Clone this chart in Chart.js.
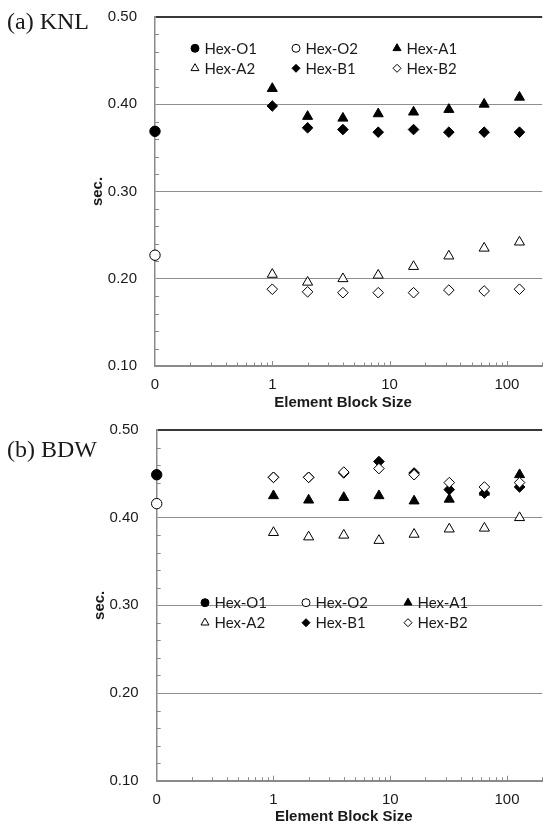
<!DOCTYPE html>
<html>
<head>
<meta charset="utf-8">
<script src="https://cdn.jsdelivr.net/npm/chart.js@4.4.1/dist/chart.umd.min.js"></script>
<style>
  html, body { margin: 0; padding: 0; background: #fff; overflow: hidden; }
  .panel { position: absolute; left: 0; width: 549px; }
  #pa { top: 0; height: 412px; }
  #pb { top: 412px; height: 413px; }
  canvas { display: block; }
</style>
</head>
<body>
<div class="panel" id="pa"><canvas id="knl" width="549" height="412"></canvas></div>
<div class="panel" id="pb"><canvas id="bdw" width="549" height="413"></canvas></div>
<script>
// Element block sizes; size 0 sits at 0.1 on the log axis, labelled "0"
const blockSizes = [0, 1, 2, 4, 8, 16, 32, 64, 128];
const ZERO_POS = 0.1;
const seriesNames = ['Hex-O1', 'Hex-O2', 'Hex-A1', 'Hex-A2', 'Hex-B1', 'Hex-B2'];
const xTickValues = [0.1, 1, 10, 100];
const xTickLabels = ['0', '1', '10', '100'];
const yTickLabels = ['0.10', '0.20', '0.30', '0.40', '0.50'];

// (a) KNL, seconds
const knlO1 = [0.369, null, null, null, null, null, null, null, null];
const knlO2 = [0.227, null, null, null, null, null, null, null, null];
const knlA1 = [null, 0.418, 0.386, 0.384, 0.389, 0.391, 0.394, 0.400, 0.408];
const knlA2 = [null, 0.205, 0.196, 0.200, 0.204, 0.214, 0.226, 0.235, 0.242];
const knlB1 = [null, 0.398, 0.373, 0.371, 0.368, 0.371, 0.368, 0.368, 0.368];
const knlB2 = [null, 0.188, 0.185, 0.184, 0.184, 0.184, 0.187, 0.186, 0.188];

// (b) BDW, seconds
const bdwO1 = [0.449, null, null, null, null, null, null, null, null];
const bdwO2 = [0.416, null, null, null, null, null, null, null, null];
const bdwA1 = [null, 0.425, 0.420, 0.423, 0.425, 0.419, 0.421, 0.429, 0.449];
const bdwA2 = [null, 0.383, 0.378, 0.380, 0.374, 0.381, 0.387, 0.388, 0.400];
const bdwB1 = [null, 0.446, 0.446, 0.451, 0.464, 0.451, 0.432, 0.428, 0.435];
const bdwB2 = [null, 0.446, 0.446, 0.452, 0.456, 0.449, 0.440, 0.435, 0.440];

// marker look per series
const markers = [
  { shape: 'circle',   fill: '#000', r: 5.2, lr: 4.0 },
  { shape: 'circle',   fill: '#fff', r: 5.2, lr: 4.0 },
  { shape: 'triangle', fill: '#000', r: 5.8, lr: 4.6 },
  { shape: 'triangle', fill: '#fff', r: 5.8, lr: 4.6 },
  { shape: 'rectRot',  fill: '#000', r: 5.3, lr: 4.0 },
  { shape: 'rectRot',  fill: '#fff', r: 5.3, lr: 4.0 }
];

const TEXT = '#1a1a1a';
const AXIS = '#8a8a8a';
Chart.defaults.font.family = "'Liberation Sans', Arial, sans-serif";
Chart.defaults.font.size = 15;
Chart.defaults.color = TEXT;

function makeDatasets(series) {
  return series.map((vals, k) => ({
    label: seriesNames[k],
    data: blockSizes
      .map((b, i) => (vals[i] == null ? null : { x: b === 0 ? ZERO_POS : b, y: vals[i] }))
      .filter(p => p),
    showLine: false,
    pointStyle: markers[k].shape,
    pointRadius: markers[k].r,
    pointBackgroundColor: markers[k].fill,
    pointBorderColor: '#000',
    pointBorderWidth: 1,
    order: series.length - k,
    clip: false
  }));
}

// minor ticks, axis titles, panel tag and in-plot legend
const panelDecor = {
  id: 'panelDecor',
  beforeDatasetsDraw(chart, args, o) {
    const { ctx, chartArea: a, scales: { x, y } } = chart;
    ctx.save();
    ctx.strokeStyle = AXIS;
    ctx.lineWidth = 1;
    ctx.beginPath();
    for (let k = 1; k < 20; k++) {
      if (k % 5 === 0) continue;
      const py = Math.round(y.getPixelForValue(0.1 + k * 0.02)) + 0.5;
      ctx.moveTo(a.left, py);
      ctx.lineTo(a.left + 4, py);
    }
    for (let e = -1; e <= 2; e++) {
      for (let s = 1; s <= 9; s++) {
        const v = s * Math.pow(10, e);
        if (v <= x.min * 1.0001 || v > x.max) continue;
        const px = Math.round(x.getPixelForValue(v)) + 0.5;
        ctx.moveTo(px, a.bottom);
        ctx.lineTo(px, a.bottom - (s === 1 ? 5 : 3.5));
      }
    }
    ctx.stroke();
    ctx.restore();
  },
  afterDraw(chart, args, o) {
    const { ctx, chartArea: a } = chart;
    ctx.save();
    ctx.fillStyle = TEXT;
    // panel tag
    ctx.font = "24px 'Liberation Serif', 'Times New Roman', serif";
    ctx.textAlign = 'left';
    ctx.textBaseline = 'alphabetic';
    ctx.fillText(o.tag, 7, o.tagBaseline);
    // axis titles
    ctx.font = "bold 15px 'Liberation Sans', Arial, sans-serif";
    ctx.textAlign = 'center';
    ctx.textBaseline = 'middle';
    ctx.fillText('Element Block Size', a.left + o.xTitleDx, a.bottom + o.xTitleDy);
    ctx.save();
    ctx.translate(a.left - 57, (a.top + a.bottom) / 2);
    ctx.rotate(-Math.PI / 2);
    ctx.fillText('sec.', 0, 0);
    ctx.restore();
    // legend, three columns by two rows
    ctx.font = "15px Lato, 'Liberation Sans', sans-serif";
    ctx.textAlign = 'left';
    seriesNames.forEach((name, k) => {
      const col = k % 3, row = Math.floor(k / 3);
      const mx = o.legendCols[col], my = o.legendRows[row];
      ctx.fillStyle = markers[k].fill;
      ctx.strokeStyle = '#000';
      ctx.lineWidth = 1;
      Chart.helpers.drawPoint(ctx, { pointStyle: markers[k].shape, radius: markers[k].lr, rotation: 0, borderWidth: 1 }, mx, my);
      ctx.fillStyle = TEXT;
      ctx.fillText(name, mx + 9.5, my + 0.5);
    });
    ctx.restore();
  }
};

function buildChart(canvasId, series, frame, decor) {
  return new Chart(document.getElementById(canvasId), {
    type: 'scatter',
    data: { datasets: makeDatasets(series) },
    plugins: [panelDecor],
    options: {
      responsive: false,
      animation: false,
      events: [],
      layout: { padding: { left: frame.padLeft, top: frame.padTop, right: 0, bottom: 0 } },
      plugins: {
        legend: { display: false },
        tooltip: { enabled: false },
        panelDecor: decor
      },
      scales: {
        x: {
          type: 'logarithmic',
          min: 0.1,
          max: 200,
          afterBuildTicks: s => { s.ticks = xTickValues.map(v => ({ value: v })); },
          afterFit: s => {
            s.height = frame.xHeight;
            s.paddingLeft = 0; s.paddingRight = 0; s.paddingTop = 0; s.paddingBottom = 0;
          },
          grid: { display: false, drawTicks: false },
          border: { display: true, color: AXIS, width: 2 },
          ticks: {
            autoSkip: false,
            maxRotation: 0,
            padding: 10,
            color: TEXT,
            callback: v => {
              const i = xTickValues.findIndex(t => Math.abs(t - v) < 1e-9);
              return i >= 0 ? xTickLabels[i] : '';
            }
          }
        },
        y: {
          min: 0.1,
          max: 0.5,
          afterFit: s => {
            s.width = frame.yWidth;
            s.paddingLeft = 0; s.paddingRight = 0; s.paddingTop = 0; s.paddingBottom = 0;
          },
          grid: {
            drawTicks: false,
            color: c => (c.tick && c.tick.value > 0.49 ? '#383838' : '#8f8f8f'),
            lineWidth: c => (c.tick && c.tick.value > 0.49 ? 2 : 1)
          },
          border: { display: true, color: AXIS, width: 1.5 },
          ticks: {
            stepSize: 0.1,
            padding: 18,
            color: TEXT,
            callback: (v, i) => yTickLabels[i]
          }
        }
      }
    }
  });
}

buildChart('knl', [knlO1, knlO2, knlA1, knlA2, knlB1, knlB2],
  { padLeft: 100, padTop: 17, xHeight: 46, yWidth: 55 },
  { tag: '(a) KNL', tagBaseline: 28.5, xTitleDx: 188, xTitleDy: 37,
    legendCols: [195, 296, 397], legendRows: [48.3, 68.3] });

buildChart('bdw', [bdwO1, bdwO2, bdwA1, bdwA2, bdwB1, bdwB2],
  { padLeft: 101.7, padTop: 18, xHeight: 44.3, yWidth: 55 },
  { tag: '(b) BDW', tagBaseline: 45, xTitleDx: 187, xTitleDy: 36,
    legendCols: [205, 306, 408], legendRows: [190.7, 210.7] });
</script>
</body>
</html>
